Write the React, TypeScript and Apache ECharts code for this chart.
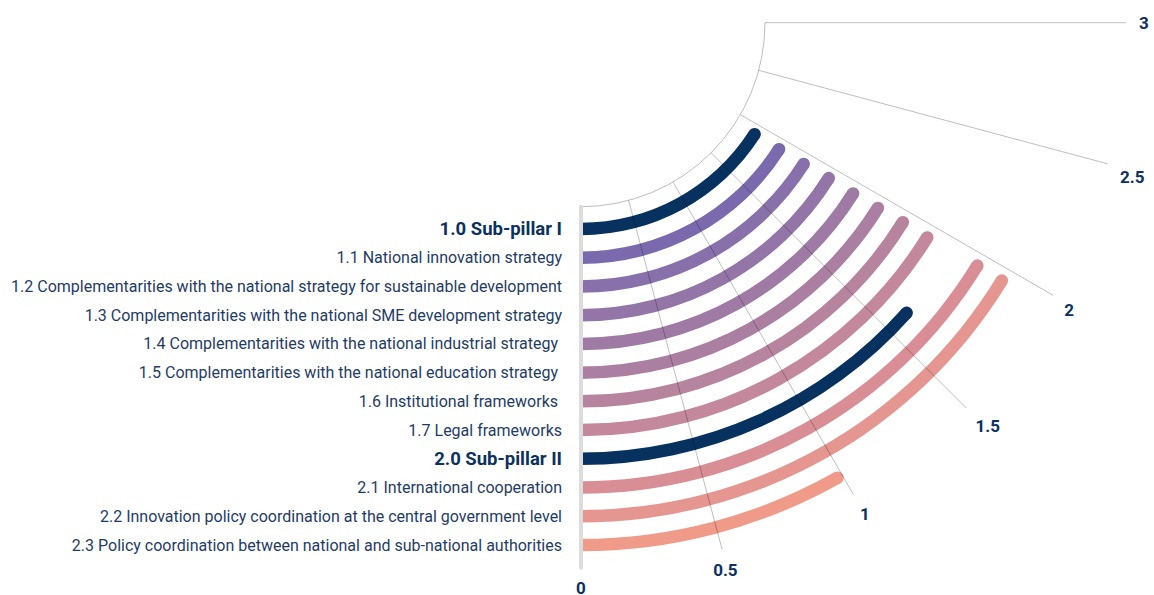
import React, { useEffect, useRef } from 'react';
import * as echarts from 'echarts';

const categories = [
  '1.0 Sub-pillar I',
  '1.1 National innovation strategy',
  '1.2 Complementarities with the national strategy for sustainable development',
  '1.3 Complementarities with the national SME development strategy',
  '1.4 Complementarities with the national industrial strategy ',
  '1.5 Complementarities with the national education strategy ',
  '1.6 Institutional frameworks ',
  '1.7 Legal frameworks',
  '2.0 Sub-pillar II',
  '2.1 International cooperation',
  '2.2 Innovation policy coordination at the central government level',
  '2.3 Policy coordination between national and sub-national authorities',
];
const scores = [1.91, 1.915, 1.92, 1.93, 1.93, 1.935, 1.94, 1.94, 1.61, 1.95, 1.95, 0.98];
const barColors = [
  '#07325f', '#7b69ae', '#8870ab', '#9475a8', '#9f7aa5', '#aa7fa2',
  '#b7849f', '#c3889b', '#07325f', '#d98e96', '#e59690', '#f09b8a',
];
const pillarLabels = ['1.0 Sub-pillar I', '2.0 Sub-pillar II'];
const scaleMin = 0;
const scaleMax = 3;
const scaleStep = 0.5;

export default function App() {
  const ref = useRef<HTMLDivElement>(null);
  useEffect(() => {
    document.body.style.margin = '0';
    const chart = echarts.init(ref.current!, null, { renderer: 'svg' });
    const center = [581, 22.7];
    const gridLine = 'rgba(0,0,0,0.26)';
    const tickStyle = { fontFamily: 'Roboto', fontWeight: 'bold', fontSize: 17, color: '#0b3160' };
    const option: any = {
      animation: false,
      polar: [
        { center, radius: [184, 545] },
        { center, radius: [191.9, 536.7] },
        { center, radius: [0, 184] },
      ],
      angleAxis: [
        {
          polarIndex: 0,
          type: 'value',
          min: scaleMin,
          max: scaleMax,
          interval: scaleStep,
          startAngle: 270,
          endAngle: 360,
          clockwise: false,
          z: 10,
          axisLine: { show: false },
          axisTick: { show: false },
          splitLine: {
            show: true,
            lineStyle: {
              color: ['rgba(0,0,0,0)', gridLine, gridLine, gridLine, gridLine, gridLine, gridLine],
              width: 1,
            },
          },
          axisLabel: {
            show: true,
            margin: 13,
            formatter: (v: number) => (v === 0 ? `{z|${v}}` : v === 2.5 ? `{s|${v}}` : `{t|${v}}`),
            rich: {
              t: { ...tickStyle },
              s: { ...tickStyle, padding: [20, 0, 0, 0] },
              z: { ...tickStyle, lineHeight: 14 },
            },
          },
        },
        {
          polarIndex: 1,
          type: 'value',
          min: scaleMin,
          max: scaleMax,
          startAngle: 270,
          endAngle: 360,
          clockwise: false,
          show: false,
        },
        {
          polarIndex: 2,
          type: 'value',
          min: scaleMin,
          max: scaleMax,
          startAngle: 270,
          endAngle: 360,
          clockwise: false,
          axisLine: { show: true, lineStyle: { color: '#bdbdbd', width: 1 } },
          axisTick: { show: false },
          axisLabel: { show: false },
          splitLine: { show: false },
        },
      ],
      radiusAxis: [
        {
          polarIndex: 0,
          type: 'value',
          min: 0,
          max: 1,
          z: 10,
          axisLine: { show: true, lineStyle: { color: '#dcdcdc', width: 4 } },
          axisTick: { show: false },
          axisLabel: { show: false },
          splitLine: { show: false },
        },
        {
          polarIndex: 1,
          type: 'category',
          data: categories,
          axisLine: { show: false },
          axisTick: { show: false },
          splitLine: { show: false },
          axisLabel: {
            show: true,
            interval: 0,
            margin: -19,
            align: 'right',
            verticalAlign: 'middle',
            formatter: (v: string) => (pillarLabels.includes(v) ? `{b|${v}}` : `{n|${v}}`),
            rich: {
              n: { fontFamily: 'Roboto', fontSize: 16, color: '#1f3c66' },
              b: { fontFamily: 'Roboto', fontSize: 18.5, fontWeight: 'bold', color: '#0b3160' },
            },
          },
        },
        {
          polarIndex: 2,
          type: 'value',
          show: false,
        },
      ],
      series: [
        {
          type: 'bar',
          coordinateSystem: 'polar',
          polarIndex: 1,
          barWidth: 12.5,
          silent: true,
          data: scores.map((v, i) => ({ value: v, itemStyle: { color: barColors[i] } })),
        },
        {
          type: 'scatter',
          coordinateSystem: 'polar',
          polarIndex: 1,
          symbol: 'circle',
          symbolSize: 12.5,
          silent: true,
          data: scores.map((v, i) => ({ value: [i, v], itemStyle: { color: barColors[i], opacity: 1 } })),
        },
      ],
    };
    chart.setOption(option);
    return () => chart.dispose();
  }, []);
  return <div ref={ref} style={{ width: 1154, height: 595 }} />;
}
